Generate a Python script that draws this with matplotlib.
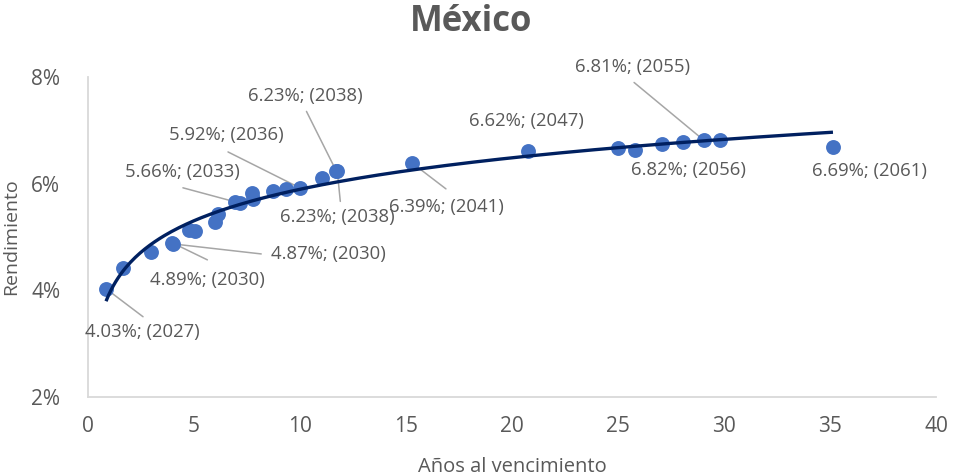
import numpy as np
import matplotlib
matplotlib.use("Agg")
import matplotlib.pyplot as plt

plt.rcParams['font.family'] = ['Open Sans', 'DejaVu Sans']

# ---- data ----
years_to_maturity = [0.85, 1.67, 2.97, 3.98, 4.02, 4.76, 5.05, 5.99, 6.15, 6.93, 7.17,
                     7.75, 7.80, 8.74, 9.34, 10.00, 11.02, 11.72, 11.76, 15.28, 20.75,
                     25.00, 25.80, 27.06, 28.05, 29.06, 29.80, 35.14]
yield_pct = [4.03, 4.41, 4.72, 4.89, 4.87, 5.13, 5.12, 5.29, 5.44, 5.66, 5.64,
             5.82, 5.72, 5.86, 5.90, 5.92, 6.10, 6.23, 6.23, 6.39, 6.62,
             6.67, 6.64, 6.74, 6.78, 6.81, 6.82, 6.69]

# labelled points: index into arrays, label text
label_index = [0, 3, 4, 9, 15, 17, 18, 19, 20, 25, 26, 27]
label_text = ["4.03%; (2027)", "4.89%; (2030)", "4.87%; (2030)", "5.66%; (2033)",
              "5.92%; (2036)", "6.23%; (2038)", "6.23%; (2038)", "6.39%; (2041)",
              "6.62%; (2047)", "6.81%; (2055)", "6.82%; (2056)", "6.69%; (2061)"]

# layout: text offset (pixels) and leader end offset (pixels) relative to the point
text_offsets = [(36, -43), (35, -37), (155, -10), (-53, 30), (-74, 53), (-31, 75),
                (0, -46), (34, -44), (-2, 30), (-72, 73), (-31, -30), (36, -24)]
leader_offsets = [(37, -28), (35, -17), (88, -10), (-52, 14), (-72, 36), (-30, 60),
                  (3, -30), (34, -26), None, (-70, 58), None, None]

x_ticks = [0, 5, 10, 15, 20, 25, 30, 35, 40]
y_ticks = [2, 4, 6, 8]

GRAY = "#595959"
fig = plt.figure(figsize=(9.54, 4.76), dpi=100)
ax = fig.add_axes([88/954, 1-397/476, (936-88)/954, (397-77)/476])

x = np.array(years_to_maturity)
y = np.array(yield_pct)

ax.scatter(x, y, s=115, color="#4472C4", zorder=3, linewidths=0)

# logarithmic trendline
b, a = np.polyfit(np.log(x), y, 1)
xt = np.linspace(x.min(), x.max(), 300)
ax.plot(xt, a + b*np.log(xt), color="#002060", lw=2.4, zorder=4, solid_capstyle='butt')

for idx, txt, toff, loff in zip(label_index, label_text, text_offsets, leader_offsets):
    px, py = x[idx], y[idx]
    ax.annotate(txt, xy=(px, py), xytext=toff, textcoords='offset pixels',
                ha='center', va='center', fontsize=13.3, color=GRAY, zorder=5,
                annotation_clip=False)
    if loff is not None:
        ax.annotate("", xy=(px, py), xytext=loff, textcoords='offset pixels',
                    arrowprops=dict(arrowstyle='-', color="#A6A6A6", lw=1.1,
                                    shrinkA=0, shrinkB=0), zorder=2,
                    annotation_clip=False)

ax.set_xlim(0, 40)
ax.set_ylim(2, 8)
ax.set_xticks(x_ticks)
ax.set_xticklabels([str(v) for v in x_ticks])
ax.set_yticks(y_ticks)
ax.set_yticklabels([f"{v}%" for v in y_ticks])
ax.tick_params(length=0, labelsize=15, labelcolor=GRAY)
ax.tick_params(axis='x', pad=14)
ax.tick_params(axis='y', pad=20)

for s in ['top', 'right']:
    ax.spines[s].set_visible(False)
for s in ['left', 'bottom']:
    ax.spines[s].set_color("#D9D9D9")
    ax.spines[s].set_linewidth(1.3)

ax.set_xlabel("Años al vencimiento", fontsize=14.5, color=GRAY, labelpad=14)
ax.set_ylabel("Rendimiento", fontsize=14, color=GRAY, labelpad=8)

fig.text(471/954, 1-22/476, "México", ha='center', va='center', fontsize=25,
         fontweight='bold', color=GRAY)

fig.savefig("out.png", dpi=100)
